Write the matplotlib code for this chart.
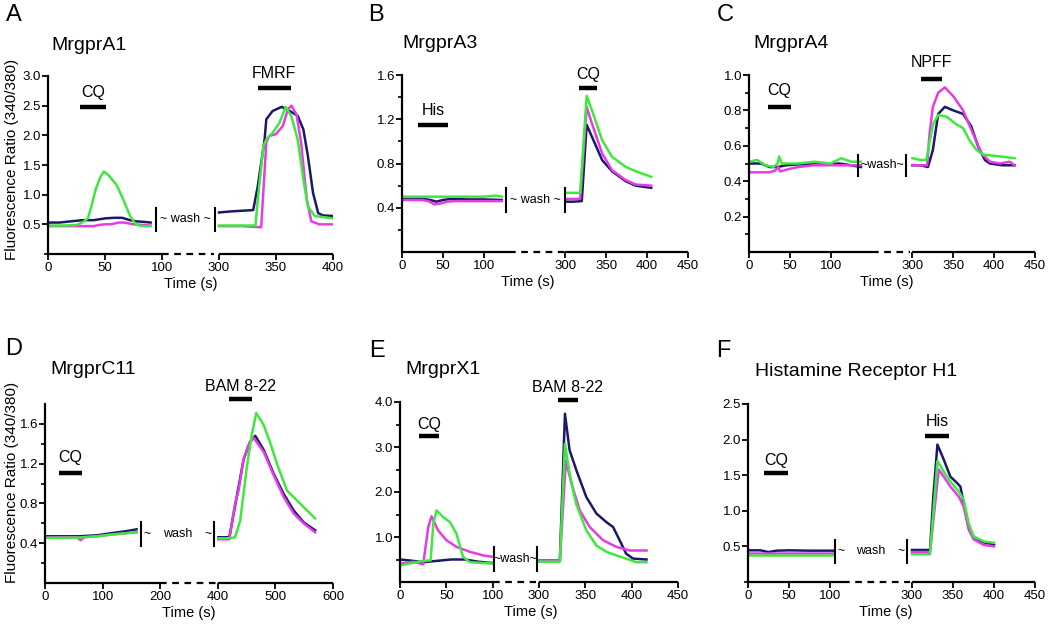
import numpy as np
import matplotlib
matplotlib.use('Agg')
import matplotlib.pyplot as plt

plt.rcParams['font.family'] = ['Liberation Sans', 'DejaVu Sans']

W, H = 1050.0, 625.0
NAVY = '#1a1a68'
MAGENTA = '#e63ce6'
GREEN = '#3ee83e'

# ---- data (time in s, ratio 340/380) ----
# A  MrgprA1
a_navy_t = [0, 10, 20, 30, 40, 50, 58, 65, 72, 78, 85, 90,
            300, 312, 330, 334, 340, 341.5, 347, 355, 362, 369, 374, 378, 382.5, 387, 391, 400]
a_navy_y = [0.53, 0.53, 0.55, 0.57, 0.57, 0.60, 0.61, 0.61, 0.57, 0.55, 0.54, 0.53,
            0.70, 0.72, 0.74, 1.14, 1.93, 2.27, 2.41, 2.48, 2.41, 2.33, 2.10, 1.65, 1.03, 0.69, 0.65, 0.64]
a_mag_t = [0, 20, 40, 45, 50, 55, 62, 67, 75, 90,
           300, 320, 337, 341.5, 344, 350, 356, 360.5, 363.5, 368, 372, 377, 381, 388, 400]
a_mag_y = [0.47, 0.47, 0.47, 0.49, 0.50, 0.50, 0.53, 0.53, 0.50, 0.48,
           0.47, 0.47, 0.45, 1.88, 1.99, 2.02, 2.16, 2.44, 2.50, 2.35, 1.88, 0.92, 0.55, 0.50, 0.50]
a_grn_t = [0, 15, 25, 30, 35, 38, 42, 46, 49, 53, 60, 66, 72, 77, 82, 90,
           300, 320, 332, 334, 339, 341.5, 347, 353, 358.5, 363.5, 369, 374, 378, 384, 400]
a_grn_y = [0.48, 0.48, 0.49, 0.53, 0.60, 0.80, 1.10, 1.30, 1.39, 1.33, 1.17, 0.92, 0.64, 0.50, 0.47, 0.47,
           0.48, 0.48, 0.48, 0.92, 1.82, 1.93, 2.04, 2.21, 2.48, 2.32, 1.93, 1.26, 0.80, 0.64, 0.60]

# B  MrgprA3
b_navy_t = [0, 15, 25, 35, 42, 50, 60, 80, 100, 122,
            301, 310, 320, 326, 332.5, 345, 357, 373.7, 386, 405]
b_navy_y = [0.48, 0.48, 0.48, 0.47, 0.455, 0.47, 0.48, 0.475, 0.475, 0.47,
            0.455, 0.455, 0.46, 1.15, 1.04, 0.83, 0.73, 0.64, 0.60, 0.58]
b_mag_t = [0, 15, 25, 32, 40, 48, 55, 65, 80, 100, 122,
           301, 310, 318, 326, 332.5, 345, 357, 373.7, 386, 405]
b_mag_y = [0.47, 0.47, 0.47, 0.46, 0.43, 0.44, 0.455, 0.46, 0.46, 0.46, 0.46,
           0.48, 0.48, 0.48, 1.31, 1.16, 0.89, 0.74, 0.65, 0.61, 0.60]
b_grn_t = [0, 20, 40, 60, 80, 100, 115, 122,
           301, 310, 318, 326, 332.5, 345, 357, 373.7, 386, 405]
b_grn_y = [0.50, 0.50, 0.50, 0.50, 0.50, 0.50, 0.51, 0.50,
           0.535, 0.535, 0.535, 1.41, 1.28, 1.01, 0.86, 0.77, 0.73, 0.68]

# C  MrgprA4
c_navy_t = [0, 15, 25, 35, 45, 60, 80, 100, 110, 125, 137,
            300, 310, 319, 325, 331.5, 339.7, 350, 362, 372, 380.5, 388.7, 394.8, 410, 425]
c_navy_y = [0.50, 0.50, 0.48, 0.48, 0.49, 0.495, 0.495, 0.495, 0.50, 0.49, 0.48,
            0.49, 0.49, 0.48, 0.576, 0.78, 0.82, 0.80, 0.78, 0.71, 0.595, 0.52, 0.50, 0.49, 0.49]
c_mag_t = [0, 15, 25, 32, 36, 38, 42, 50, 60, 80, 100, 120, 137,
           300, 310, 318, 321, 325, 331.5, 339.7, 350, 362, 374, 384.6, 394.8, 407, 419, 425]
c_mag_y = [0.45, 0.45, 0.45, 0.46, 0.48, 0.455, 0.46, 0.47, 0.48, 0.49, 0.49, 0.49, 0.49,
           0.49, 0.49, 0.49, 0.67, 0.82, 0.90, 0.93, 0.88, 0.80, 0.67, 0.557, 0.51, 0.50, 0.51, 0.49]
c_grn_t = [0, 10, 20, 30, 35, 37, 40, 50, 60, 80, 100, 113, 125, 137,
           300, 310, 317, 325, 331.5, 341.7, 354, 362, 370, 378.5, 386.6, 407, 425]
c_grn_y = [0.51, 0.52, 0.49, 0.48, 0.50, 0.54, 0.50, 0.50, 0.50, 0.51, 0.50, 0.53, 0.51, 0.51,
           0.53, 0.52, 0.52, 0.72, 0.774, 0.765, 0.72, 0.70, 0.63, 0.576, 0.55, 0.54, 0.53]

# D  MrgprC11
d_navy_t = [0, 30, 60, 90, 120, 140, 159,
            401, 420, 433, 444.7, 456, 465, 479.5, 496.9, 514, 531.6, 549, 569]
d_navy_y = [0.47, 0.47, 0.47, 0.48, 0.505, 0.52, 0.54,
            0.46, 0.46, 0.87, 1.24, 1.42, 1.48, 1.34, 1.10, 0.90, 0.73, 0.61, 0.53]
d_mag_t = [0, 30, 55, 62, 68, 90, 120, 140, 159,
           401, 420, 430, 436, 444.7, 453.4, 462, 479.5, 496.9, 514, 531.6, 549, 569]
d_mag_y = [0.455, 0.46, 0.46, 0.43, 0.46, 0.47, 0.49, 0.50, 0.51,
           0.44, 0.44, 0.80, 0.93, 1.24, 1.39, 1.46, 1.32, 1.085, 0.87, 0.70, 0.60, 0.51]
d_grn_t = [0, 30, 50, 90, 120, 140, 159,
           401, 420, 430, 439, 450.5, 459, 466.7, 479.5, 491, 502.7, 520, 537.4, 554.8, 569]
d_grn_y = [0.455, 0.455, 0.455, 0.47, 0.49, 0.50, 0.51,
           0.45, 0.45, 0.46, 0.63, 1.17, 1.49, 1.71, 1.59, 1.41, 1.20, 0.93, 0.83, 0.73, 0.65]

# E  MrgprX1
e_navy_t = [0, 10, 25, 40, 55, 70, 85, 100,
            300, 315, 322.5, 328, 333, 340.4, 351, 362, 372.8, 380, 387, 394, 401.5, 416]
e_navy_y = [0.50, 0.48, 0.44, 0.47, 0.50, 0.50, 0.45, 0.42,
            0.48, 0.48, 0.48, 3.74, 2.93, 2.48, 1.89, 1.52, 1.33, 1.22, 0.93, 0.63, 0.52, 0.50]
e_mag_t = [0, 15, 25, 30.5, 34, 41, 50, 61, 75.5, 90, 100,
           300, 315, 322.5, 329, 335, 344, 354.8, 369, 383.6, 398, 416]
e_mag_y = [0.41, 0.45, 0.39, 1.22, 1.46, 1.15, 0.93, 0.78, 0.67, 0.59, 0.56,
           0.48, 0.48, 0.48, 2.70, 2.19, 1.59, 1.22, 0.93, 0.78, 0.70, 0.70]
e_grn_t = [0, 25, 33, 36, 39.5, 46.7, 54, 61, 68, 75.5, 100,
           300, 315, 322.5, 328, 333, 340, 351, 362, 372.8, 383.6, 394, 405, 416]
e_grn_y = [0.37, 0.47, 0.48, 1.30, 1.59, 1.44, 1.33, 1.07, 0.56, 0.44, 0.41,
           0.45, 0.45, 0.45, 3.07, 2.41, 1.74, 1.15, 0.81, 0.67, 0.59, 0.52, 0.44, 0.44]

# F  Histamine Receptor H1
f_navy_t = [0, 15, 25, 35, 50, 75, 104,
            300, 310, 322, 326, 331, 338.7, 346.8, 355, 359, 363, 369, 375, 383.6, 400]
f_navy_y = [0.445, 0.445, 0.42, 0.44, 0.445, 0.44, 0.44,
            0.45, 0.45, 0.45, 1.20, 1.93, 1.72, 1.48, 1.39, 1.34, 1.11, 0.78, 0.64, 0.57, 0.52]
f_mag_t = [0, 50, 104, 300, 322, 332.6, 338.7, 346.8, 357, 363, 369, 375, 387.6, 400]
f_mag_y = [0.41, 0.41, 0.41, 0.42, 0.42, 1.58, 1.48, 1.34, 1.20, 1.06, 0.74, 0.60, 0.52, 0.50]
f_grn_t = [0, 50, 104, 300, 322, 331, 338.7, 346.8, 357, 363, 369, 375, 387.6, 400]
f_grn_y = [0.38, 0.38, 0.38, 0.39, 0.39, 1.70, 1.55, 1.41, 1.27, 1.16, 0.83, 0.64, 0.57, 0.55]

# stimulus bars: label, start, end (s)
a_stims = [('CQ', 28, 51), ('FMRF', 334, 363)]
b_stims = [('His', 20, 56), ('CQ', 317, 339)]
c_stims = [('CQ', 23, 52), ('NPFF', 311, 336)]
d_stims = [('CQ', 24, 64), ('BAM 8-22', 420, 460)]
e_stims = [('CQ', 20.5, 42), ('BAM 8-22', 320, 342)]
f_stims = [('CQ', 20, 49), ('His', 316, 345)]


def px_rect(l, r, t, b):
    return [l / W, 1 - b / H, (r - l) / W, (b - t) / H]


fig = plt.figure(figsize=(10.5, 6.25), dpi=100)


def draw_panel(rect, shift, cut, umax, ymax, yticks, yminor, xtu, xtl,
               series, stims, bar_y, lab_y, wash, segs, xlab_x, split=False):
    ax = fig.add_axes(rect)
    for t, y, c in series:
        t = np.asarray(t, float)
        y = np.asarray(y, float)
        left = t <= cut
        u = np.where(left, t, t - shift)
        ax.plot(u[left], y[left], color=c, lw=1.8)
        ax.plot(u[~left], y[~left], color=c, lw=1.8)

    ax.set_xlim(0, umax)
    ax.set_ylim(0, ymax)
    for s in ['top', 'right', 'bottom']:
        ax.spines[s].set_visible(False)
    ax.spines['left'].set_linewidth(1.6)

    # broken x axis
    (s0, s1), (d0, d1), (r0, r1) = segs
    ax.plot([s0, s1], [0, 0], color='k', lw=1.6, clip_on=False, solid_capstyle='butt')
    ax.plot([d0, d1], [0, 0], color='k', lw=1.6, clip_on=False, ls=(0, (3, 2.5)))
    ax.plot([r0, r1], [0, 0], color='k', lw=1.6, clip_on=False, solid_capstyle='butt')

    ax.set_xticks(xtu)
    ax.set_xticklabels(xtl)
    ax.set_yticks(yticks)
    ax.set_yticklabels(['%.1f' % v for v in yticks])
    if yminor:
        ax.set_yticks(yminor, minor=True)
    ax.tick_params(axis='both', direction='out', length=4, width=1.3, labelsize=9.5)
    ax.tick_params(axis='y', pad=1)
    ax.tick_params(axis='x', pad=2)
    ax.tick_params(which='minor', direction='out', length=3, width=1.2)

    # stimulus bars
    for (lab, t0, t1), yb, yl in zip(stims, bar_y, lab_y):
        u0 = t0 if t0 <= cut else t0 - shift
        u1 = t1 if t1 <= cut else t1 - shift
        ax.plot([u0, u1], [yb, yb], color='k', lw=3.2, solid_capstyle='butt', clip_on=False)
        ax.text((u0 + u1) / 2, yl, lab, ha='center', va='center', fontsize=11.5, clip_on=False)

    # wash marker
    tl, tr, w0, w1, txt = wash
    ul, ur = tl, tr - shift
    ym = (w0 + w1) / 2
    ax.plot([ul, ul], [w0, w1], color='k', lw=1.5)
    ax.plot([ur, ur], [w0, w1], color='k', lw=1.5)
    if split:
        d = (ur - ul) * 0.03
        ax.text(ul + d, ym, '~', ha='left', va='center', fontsize=9)
        ax.text(ur - d, ym, '~', ha='right', va='center', fontsize=9)
    ax.text((ul + ur) / 2, ym, txt, ha='center', va='center', fontsize=9)

    ax.set_xlabel('Time (s)', fontsize=10.5, labelpad=2)
    ax.xaxis.set_label_coords(xlab_x, -0.13)
    return ax


draw_panel(px_rect(48, 333, 76, 254), 150, 200, 250, 3.0,
           [0.5, 1.0, 1.5, 2.0, 2.5, 3.0], [0.0],
           [0, 50, 100, 150, 200, 250], ['0', '50', '100', '300', '350', '400'],
           [(a_navy_t, a_navy_y, NAVY), (a_mag_t, a_mag_y, MAGENTA), (a_grn_t, a_grn_y, GREEN)],
           a_stims, [2.48, 2.80], [2.72, 3.04],
           (95, 296.5, 0.39, 0.78, '~ wash ~'),
           [(0, 100), (100, 146), (150, 250)], 0.5)

draw_panel(px_rect(402, 688, 75, 252), 100, 200, 350, 1.6,
           [0.4, 0.8, 1.2, 1.6], [0.2, 0.6, 1.0, 1.4],
           [0, 50, 100, 200, 250, 300, 350], ['0', '50', '100', '300', '350', '400', '450'],
           [(b_navy_t, b_navy_y, NAVY), (b_mag_t, b_mag_y, MAGENTA), (b_grn_t, b_grn_y, GREEN)],
           b_stims, [1.147, 1.48], [1.28, 1.60],
           (127, 300, 0.36, 0.58, '~ wash ~'),
           [(0, 131), (131, 200), (200, 350)], 0.44)

draw_panel(px_rect(749, 1035, 75, 252), 100, 200, 350, 1.0,
           [0.2, 0.4, 0.6, 0.8, 1.0], [0.1, 0.3, 0.5, 0.7, 0.9],
           [0, 50, 100, 200, 250, 300, 350], ['0', '50', '100', '300', '350', '400', '450'],
           [(c_navy_t, c_navy_y, NAVY), (c_mag_t, c_mag_y, MAGENTA), (c_grn_t, c_grn_y, GREEN)],
           c_stims, [0.82, 0.98], [0.91, 1.07],
           (134, 292, 0.43, 0.55, '~wash~'),
           [(0, 150), (150, 197), (200, 350)], 0.48)

draw_panel(px_rect(45, 333, 404, 583), 100, 300, 500, 1.8,
           [0.4, 0.8, 1.2, 1.6], [0.2, 0.6, 1.0, 1.4],
           [0, 100, 200, 300, 400, 500], ['0', '100', '200', '400', '500', '600'],
           [(d_navy_t, d_navy_y, NAVY), (d_mag_t, d_mag_y, MAGENTA), (d_grn_t, d_grn_y, GREEN)],
           d_stims, [1.11, 1.85], [1.26, 1.98],
           (167, 393, 0.37, 0.61, 'wash'),
           [(0, 200), (200, 297), (300, 500)], 0.5, split=True)

draw_panel(px_rect(400, 678, 402, 582), 150, 200, 300, 4.0,
           [1.0, 2.0, 3.0, 4.0], [0.5, 1.5, 2.5, 3.5],
           [0, 50, 100, 150, 200, 250, 300], ['0', '50', '100', '300', '350', '400', '450'],
           [(e_navy_t, e_navy_y, NAVY), (e_mag_t, e_mag_y, MAGENTA), (e_grn_t, e_grn_y, GREEN)],
           e_stims, [3.24, 4.04], [3.49, 4.33],
           (101, 298, 0.24, 0.78, '~wash~'),
           [(0, 100), (100, 147), (150, 300)], 0.47)

draw_panel(px_rect(748, 1035, 404, 582), 100, 200, 350, 2.5,
           [0.5, 1.0, 1.5, 2.0, 2.5], [0.0],
           [0, 50, 100, 200, 250, 300, 350], ['0', '50', '100', '300', '350', '400', '450'],
           [(f_navy_t, f_navy_y, NAVY), (f_mag_t, f_mag_y, MAGENTA), (f_grn_t, f_grn_y, GREEN)],
           f_stims, [1.53, 2.05], [1.71, 2.25],
           (106, 294, 0.27, 0.59, 'wash'),
           [(0, 116), (116, 197), (200, 350)], 0.48, split=True)

# panel letters and titles
for lt, x, y in [('A', 6, 4), ('B', 368, 4), ('C', 717, 4),
                 ('D', 5, 338), ('E', 369, 340), ('F', 716, 340)]:
    fig.text(x / W, 1 - y / H, lt, fontsize=17, ha='left', va='top')
for tt, x, y in [('MrgprA1', 51, 46), ('MrgprA3', 402, 44), ('MrgprA4', 753, 44),
                 ('MrgprC11', 50, 370), ('MrgprX1', 405, 370), ('Histamine Receptor H1', 755, 371)]:
    fig.text(x / W, 1 - y / H, tt, fontsize=14, ha='left', va='center')

for y in [159, 482]:
    fig.text(12 / W, 1 - y / H, 'Fluorescence Ratio (340/380)', fontsize=11,
             rotation=90, ha='center', va='center')

fig.savefig('out.png', dpi=100)
